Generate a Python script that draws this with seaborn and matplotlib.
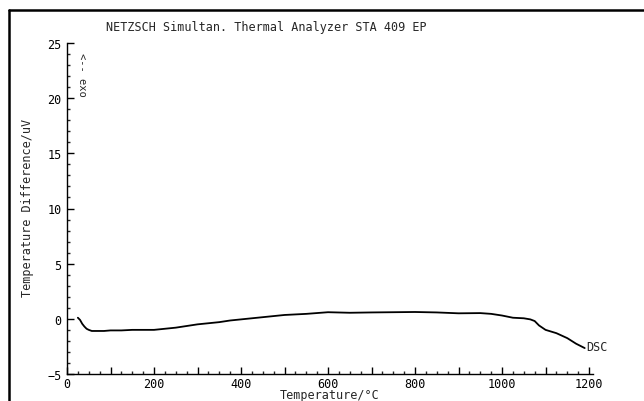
import matplotlib
matplotlib.use("Agg")
import matplotlib.pyplot as plt
from matplotlib.lines import Line2D
from matplotlib.ticker import MultipleLocator, FuncFormatter
import seaborn as sns
import pandas as pd

temperature = [25, 30, 35, 40, 45, 50, 57, 70, 85, 100, 125, 150, 175, 200, 225, 250,
               275, 300, 325, 350, 375, 400, 425, 450, 475, 500, 550, 600, 650, 700,
               750, 800, 850, 900, 950, 975, 1000, 1025, 1050, 1065, 1075, 1085,
               1100, 1125, 1150, 1170, 1190]
dsc = [0.1, -0.1, -0.45, -0.7, -0.9, -1.0, -1.1, -1.1, -1.1, -1.05, -1.05, -1.0,
       -1.0, -1.0, -0.9, -0.8, -0.65, -0.5, -0.4, -0.3, -0.15, -0.05, 0.05, 0.15,
       0.25, 0.35, 0.45, 0.6, 0.55, 0.58, 0.6, 0.62, 0.58, 0.5, 0.52, 0.45, 0.3,
       0.1, 0.05, -0.05, -0.2, -0.6, -1.0, -1.3, -1.75, -2.25, -2.65]

df = pd.DataFrame({"Temperature": temperature, "DSC": dsc})

sns.set_style("ticks")
plt.rcParams["font.family"] = ["DejaVu Sans Mono", "DejaVu Sans"]

W, H = 644, 402
fig = plt.figure(figsize=(W / 100, H / 100), dpi=100)
ax = fig.add_axes([67 / W, 27 / H, (593.4 - 67) / W, (375 - 44) / H])

sns.lineplot(data=df, x="Temperature", y="DSC", ax=ax, color="black", linewidth=1.3)

ax.set_xlim(0, 1210)
ax.set_ylim(-5, 25)
for s in ["top", "right"]:
    ax.spines[s].set_visible(False)
for s in ["left", "bottom"]:
    ax.spines[s].set_linewidth(1.0)
    ax.spines[s].set_color("black")

ax.xaxis.set_major_locator(MultipleLocator(100))
ax.xaxis.set_minor_locator(MultipleLocator(25))
ax.xaxis.set_major_formatter(FuncFormatter(lambda v, p: f"{int(v)}" if int(v) % 200 == 0 and v <= 1200 else ""))
ax.yaxis.set_major_locator(MultipleLocator(5))
ax.yaxis.set_minor_locator(MultipleLocator(1))
ax.tick_params(which="major", direction="in", length=5, width=1, labelsize=8.5, colors="black", pad=2)
ax.tick_params(which="minor", direction="in", length=2.5, width=1)
ax.tick_params(axis="y", pad=4)

ax.set_xlabel("")
ax.set_ylabel("")
fig.text(330 / W, 1 - 396 / H, "Temperature/°C", ha="center", va="center", fontsize=8.5)
fig.text(27 / W, 1 - 208 / H, "Temperature Difference/uV", ha="center", va="center",
         rotation=90, fontsize=8.5)
fig.text(266 / W, 1 - 27 / H, "NETZSCH Simultan. Thermal Analyzer STA 409 EP",
         ha="center", va="center", fontsize=8.5)
fig.text(82 / W, 1 - 75 / H, "<-- exo", ha="center", va="center", rotation=-90, fontsize=7.5)
ax.text(1193, -2.55, "DSC", ha="left", va="center", fontsize=8.5)

# outer frame
fig.add_artist(Line2D([9 / W, 1.0], [1 - 11 / H, 1 - 11 / H], transform=fig.transFigure,
                      color="black", linewidth=1.8))
fig.add_artist(Line2D([9 / W, 9 / W], [0, 1 - 11 / H], transform=fig.transFigure,
                      color="black", linewidth=1.8))

fig.savefig("out.png", dpi=100)
